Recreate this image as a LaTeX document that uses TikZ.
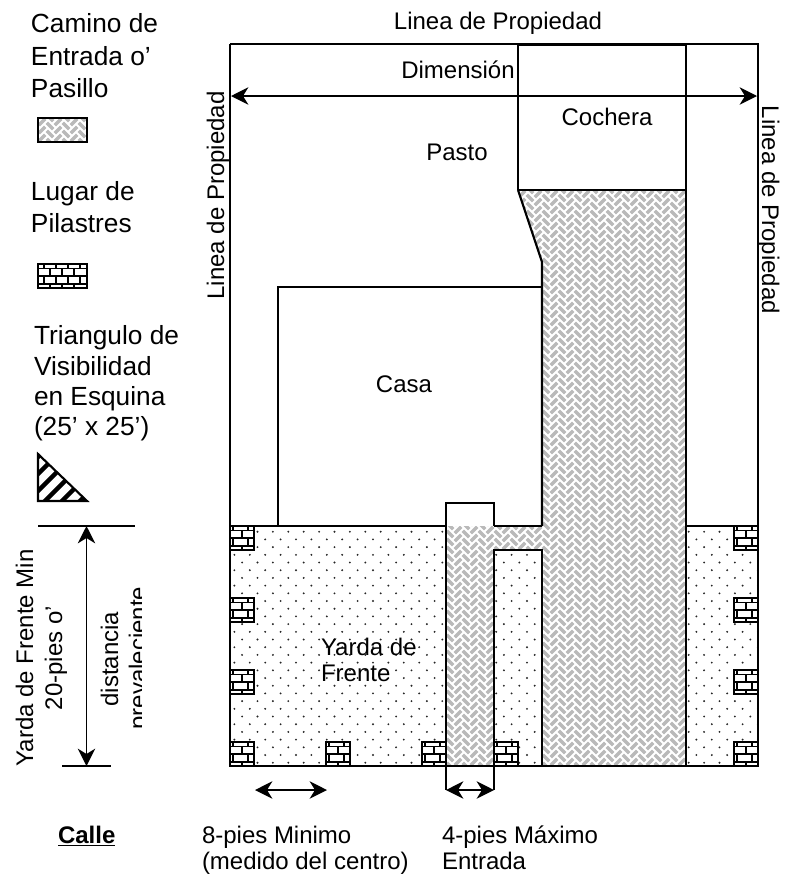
\documentclass[tikz,border=0pt]{standalone}
\usepackage{fontspec}
\setmainfont{Liberation Sans}
\usetikzlibrary{arrows.meta}
\newcommand{\txt}{\fontsize{18}{21.5}\selectfont}
\newcommand{\txtb}{\fontsize{19.7}{23}\selectfont}
\tikzset{
  px/.style={x=0.75pt,y=-0.75pt},
  lbl/.style={font=\txt,inner sep=0pt,outer sep=0pt,align=left},
  leg/.style={font=\txtb,inner sep=0pt,outer sep=0pt,align=left},
  edge/.style={draw=black,line width=1.6pt},
  thin edge/.style={draw=black,line width=1.2pt},
  dim/.style={draw=black,line width=1.3pt,{Stealth[length=13pt,width=13pt,inset=4pt]}-{Stealth[length=13pt,width=13pt,inset=4pt]}},
}
% herringbone texture inside the current clip
\newcommand{\weave}[4]{%
  \fill[white] (#1,#2) rectangle (#3,#4);
  \pgfmathtruncatemacro{\imin}{floor(#1/16)-1}\pgfmathtruncatemacro{\imax}{ceil(#3/16)+1}
  \pgfmathtruncatemacro{\jmin}{floor(#2/8)-2}\pgfmathtruncatemacro{\jmax}{ceil(#4/8)+1}
  \path[fill=gray!55,draw=white,line width=1.5pt,line join=miter]
   \foreach \i in {\imin,...,\imax}{\foreach \j in {\jmin,...,\jmax}{
     [shift={(\i*16,\j*8)}]
     (0,0) -- (8,8) -- (4,12) -- (-4,4) -- cycle
     (12,4) -- (16,8) -- (8,16) -- (4,12) -- cycle
   }};
}
\newcommand{\dotsfield}[4]{%
  \begin{scope}
  \clip (#1,#2) rectangle (#3,#4);
  \foreach \r in {-1,...,32}{
    \pgfmathsetmacro{\ry}{531.7+\r*7.7}
    \pgfmathsetmacro{\off}{mod(\r+64,2)*7.7}
    \foreach \c in {-22,...,15}{
      \pgfmathsetmacro{\dx}{442.3-\c*15.4-\off}
      \pgfmathparse{(\dx>#1-3)&&(\dx<#3+3)?1:0}
      \ifnum\pgfmathresult=1
        \fill[black!85] (\dx,\ry) circle[radius=1.05];
      \fi
    }
  }
  \end{scope}
}
\tikzset{
  pics/brick/.style={code={
    \fill[white] (0,0) rectangle (24,24);
    \draw[black,line width=1.1pt]
      (0,4.5)--(24,4.5) (0,12)--(24,12) (0,20)--(24,20)
      (3,0)--(3,4.5) (18,0)--(18,4.5)
      (12,4.5)--(12,12)
      (3,12)--(3,20) (18,12)--(18,20)
      (12,20)--(12,24);
    \draw[black,line width=1.6pt] (0,0) rectangle (24,24);
  }},
  pics/brickwide/.style={code={
    \fill[white] (0,0) rectangle (49,24);
    \draw[black,line width=1.1pt]
      (0,4.5)--(49,4.5) (0,12)--(49,12) (0,20)--(49,20)
      (6,0)--(6,4.5) (18,0)--(18,4.5) (30,0)--(30,4.5) (42,0)--(42,4.5)
      (12,4.5)--(12,12) (24,4.5)--(24,12) (36,4.5)--(36,12)
      (6,12)--(6,20) (18,12)--(18,20) (30,12)--(30,20) (42,12)--(42,20)
      (12,20)--(12,24) (24,20)--(24,24) (36,20)--(36,24);
    \draw[black,line width=1.6pt] (0,0) rectangle (49,24);
  }}
}
\begin{document}
\begin{tikzpicture}[px]
\useasboundingbox (0,0) rectangle (790,875);
\fill[white] (0,0) rectangle (790,875);

% driveway
\begin{scope}
  \clip (518,190)--(542,262)--(542,526)--(446,526)--(446,766)--(494,766)--(494,550)--(542,550)--(542,766)--(686,766)--(686,190)--cycle;
  \weave{440}{184}{692}{772}
\end{scope}

% front yard
\dotsfield{230}{526}{446}{766}
\dotsfield{494}{550}{542}{766}
\dotsfield{686}{526}{758}{766}

% bricks
\foreach \y in {526,598,670,742}{
  \pic at (230,\y) {brick};
  \pic at (734,\y) {brick};
}
\foreach \x in {326,422,494}{ \pic at (\x,742) {brick}; }

% plan outlines
\coordinate (tl) at (230,44);
\coordinate (tr) at (758,44);
\coordinate (bl) at (230,766);
\coordinate (br) at (758,766);
\draw[thin edge] (tl) -- (tr) -- (br);
\draw[thin edge] (tl) -- (bl);
\draw[edge] (bl) -- (br);
\draw[edge] (230,526) -- (446,526);
\draw[edge] (494,526) -- (542,526);
\draw[edge] (686,526) -- (758,526);
\draw[edge] (278,526) -- (278,287) -- (542,287);
\draw[edge] (518,45) -- (686,45);
\draw[thin edge] (518,45) -- (518,190) (686,45) -- (686,766);
\draw[edge] (518,190) -- (686,190);
\draw[edge] (518,190) -- (542,262) -- (542,526);
\draw[edge] (446,526) -- (446,503) -- (494,503) -- (494,526);
\draw[edge] (446,526) -- (446,766);
\draw[edge] (494,766) -- (494,550) -- (542,550) -- (542,766);

% dimension arrows
\coordinate (dl) at (231,96);
\coordinate (dr) at (757,96);
\draw[dim] (dl) -- (dr);
\coordinate (ht) at (38,526);
\coordinate (htr) at (135,526);
\coordinate (hb) at (62,766);
\coordinate (hbr) at (111,766);
\draw[edge] (ht) -- (htr);
\draw[edge] (hb) -- (hbr);
\coordinate (at) at (86.5,526);
\coordinate (ab) at (86.5,766);
\draw[dim] (at) -- (ab);
\coordinate (p1) at (255,790);
\coordinate (p2) at (327,790);
\draw[dim] (p1) -- (p2);
\coordinate (q1) at (446,790);
\coordinate (q2) at (494,790);
\draw[thin edge] (446,766) -- (q1) (494,766) -- (q2);
\draw[dim] (q1) -- (q2);

% legend swatches
\begin{scope}
  \clip (38,118) rectangle (87,142);
  \weave{30}{110}{95}{150}
\end{scope}
\draw[edge] (38,118) rectangle (87,142);
\pic at (38,264) {brickwide};
\begin{scope}
  \clip (38,454) -- (38,501) -- (87,501) -- cycle;
  \foreach \k in {495,512,529,546,563,581}{
    \draw[black,line width=3.4pt] (\k-440,440) -- (\k-540,540);
  }
\end{scope}
\draw[edge] (38,454) -- (38,501) -- (87,501) -- cycle;

% labels
\node[leg,anchor=base west] (l1) at (31,32) {Camino de};
\node[leg,anchor=base west] (l2) at (31,65) {Entrada o’};
\node[leg,anchor=base west] (l3) at (31,97) {Pasillo};
\node[leg,anchor=base west] (l4) at (31,200) {Lugar de};
\node[leg,anchor=base west] (l5) at (31,232) {Pilastres};
\node[leg,anchor=base west] (l6) at (34,344) {Triangulo de};
\node[leg,anchor=base west] (l7) at (34,375) {Visibilidad};
\node[leg,anchor=base west] (l8) at (34,405) {en Esquina};
\node[leg,anchor=base west] (l9) at (34,435) {(25’ x 25’)};

\node[lbl,anchor=base] (t1) at (498,29) {Linea de Propiedad};
\node[lbl,anchor=base] (t2) at (458,78) {Dimensión};
\node[lbl,anchor=base] (t3) at (607,125) {Cochera};
\node[lbl,anchor=base] (t4) at (457,160) {Pasto};
\node[lbl,anchor=base] (t5) at (404,392) {Casa};
\node[lbl,anchor=base west] (t6) at (321,655) {Yarda de};
\node[lbl,anchor=base west] (t7) at (321,681) {Frente};

\node[lbl,anchor=base,rotate=90] (r1) at (224,195.5) {Linea de Propiedad};
\node[lbl,anchor=base,rotate=-90] (r2) at (762,210) {Linea de Propiedad};
\node[lbl,anchor=base,rotate=90] (r3) at (33,658) {Yarda de Frente Min};
\node[lbl,anchor=base,rotate=90] (r4) at (62,658) {20-pies o’};
\begin{scope}
  \clip (90,585) rectangle (141,735);
  \node[lbl,anchor=base,rotate=90] (r5) at (118,659) {distancia};
  \node[lbl,anchor=base,rotate=90] (r6) at (146,658) {prevaleciente};
\end{scope}

\node[lbl,anchor=base west] (c0) at (58,843) {\textbf{\underline{Calle}}};
\node[lbl,anchor=base west] (c1) at (202,843) {8-pies Minimo};
\node[lbl,anchor=base west] (c2) at (202,869) {(medido del centro)};
\node[lbl,anchor=base west] (c3) at (442,843) {4-pies Máximo};
\node[lbl,anchor=base west] (c4) at (442,869) {Entrada};
\end{tikzpicture}
\end{document}
